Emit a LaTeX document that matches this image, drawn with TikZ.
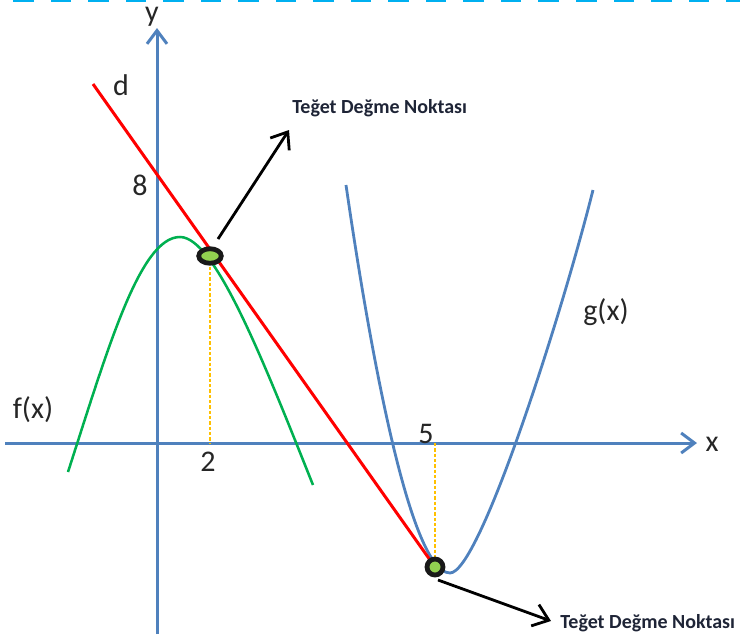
\documentclass[tikz,border=0pt]{standalone}
\usepackage{fontspec}
\setmainfont{Carlito}
\usetikzlibrary{arrows.meta,shapes.geometric}
\definecolor{axisblue}{HTML}{4F81BD}
\definecolor{topcyan}{HTML}{00B0F0}
\definecolor{fgreen}{HTML}{00B050}
\definecolor{dotgreen}{HTML}{92D050}
\definecolor{guidegold}{HTML}{FFC000}
\definecolor{txt}{HTML}{262626}
\definecolor{txtb}{HTML}{1E2436}
\tikzset{
  axisline/.style={draw=axisblue, line width=2.25pt, -{Straight Barb[length=10pt,width=15pt]}},
  gcurve/.style={draw=axisblue, line width=2.1pt},
  fcurve/.style={draw=fgreen, line width=1.9pt},
  redline/.style={draw=red, line width=2.25pt},
  guide/.style={draw=guidegold, line width=0.9pt, dash pattern=on 2.5pt off 1.5pt},
  ptr/.style={draw=black, line width=2.1pt, -{Straight Barb[length=11pt,width=17pt]}},
  lbl/.style={text=txt, inner sep=0pt, font=\fontsize{22.5}{27}\selectfont},
  notelbl/.style={text=txtb, inner sep=0pt, anchor=base west, font=\fontsize{15}{18}\selectfont\bfseries},
  dotmark/.style={draw=black!90, fill=dotgreen, line width=3.6pt, inner sep=0pt}
}
\begin{document}
\begin{tikzpicture}[x=0.75pt,y=-0.75pt]
\useasboundingbox (0,0) rectangle (740,640);
% top dashed border
\coordinate (tl) at (13,0.5);
\coordinate (tr) at (740,0.5);
\draw[draw=topcyan, line width=2.4pt, dash pattern=on 15.4pt off 12.75pt] (tl) -- (tr);
% axes
\coordinate (xs) at (5,443);
\coordinate (xe) at (697,443);
\coordinate (ys) at (157,634);
\coordinate (ye) at (157,28);
\draw[axisline] (xs) -- (xe);
\draw[axisline] (ys) -- (ye);
% f(x)
\coordinate (fL) at (68,472);
\coordinate (fP) at (180,237);
\coordinate (fR) at (313,485);
\draw[fcurve] (fL) .. controls (108,348) and (140,237) .. (fP)
                   .. controls (215,237) and (263,360) .. (fR);
% g(x)
\coordinate (gL) at (346,185);
\coordinate (gM) at (450,573);
\coordinate (gR) at (593,190);
\draw[gcurve] (gL) .. controls (361,288) and (405,573) .. (gM)
                   .. controls (480,573) and (563,310) .. (gR);
% tangency dots (positions)
\coordinate (pA) at (210,256);
\coordinate (pB) at (435,567);
\coordinate (xa2) at (210,443);
\coordinate (xa5) at (435,443);
% guides
\draw[guide] (pA) -- (xa2);
\draw[guide] (xa5) -- (pB);
% tangent line d
\coordinate (dtop) at (93,84);
\draw[redline] (dtop) -- (pB);
% dots
\node[dotmark, ellipse, minimum width=16.9pt, minimum height=10.9pt] (dotA) at (pA) {};
\node[dotmark, circle, minimum size=12pt] (dotB) at (pB) {};
% labels
\node[lbl] (ylab) at (152,17) {y};
\node[lbl] (xlab) at (712,444) {x};
\node[lbl] (dlab) at (121,85) {d};
\node[lbl] (eight) at (140,185) {8};
\node[lbl] (two) at (208,462) {2};
\node[lbl] (five) at (426,434) {5};
\node[lbl] (flab) at (33,410) {f(x)};
\node[lbl] (glab) at (606,312) {g(x)};
% notes
\node[notelbl] (noteA) at (292,113) {Teğet Değme Noktası};
\node[notelbl] (noteB) at (560,628) {Teğet Değme Noktası};
\coordinate (a1s) at (218,239);
\coordinate (a1e) at (289,130);
\coordinate (a2s) at (438,580);
\coordinate (a2e) at (551,621);
\draw[ptr] (a1s) -- (a1e);
\draw[ptr] (a2s) -- (a2e);
\end{tikzpicture}
\end{document}
